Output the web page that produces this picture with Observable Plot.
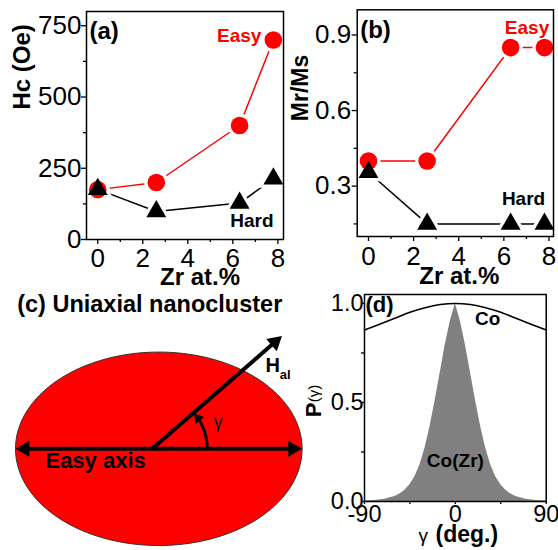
<!DOCTYPE html>
<html><head><meta charset="utf-8">
<script src="https://cdn.jsdelivr.net/npm/d3@7"></script>
<script src="https://cdn.jsdelivr.net/npm/@observablehq/plot@0.6"></script>
<style>
body{margin:0;background:#fff;}
#fig{position:relative;width:558px;height:550px;overflow:hidden;background:#fff;}
</style></head><body><div id="fig"></div>
<script>
// ---- data ----
const zr = [0, 2.6, 6.3, 7.8];
const hcEasy = [175, 200, 400, 700];
const hcHard = [176, 98, 128, 213];
const mrEasy = [0.40, 0.40, 0.85, 0.85];
const mrHard = [0.355, 0.15, 0.15, 0.15];
const zrTicks = [0, 2, 4, 6, 8];
const zrMinor = [1, 3, 5, 7];
const hcTicks = [0, 250, 500, 750];
const hcMinor = [125, 375, 625];
const mrTicks = [0.3, 0.6, 0.9];
const mrMinor = [0.15, 0.45, 0.75];
const gammaZr = [-90,-80,-70,-60,-55,-50,-45,-40,-35,-30,-25,-20,-15,-10,-5,0,5,10,15,20,25,30,35,40,45,50,55,60,70,80,90];
const pCoZr  = [0.002,0.005,0.011,0.025,0.038,0.057,0.085,0.125,0.185,0.27,0.38,0.51,0.65,0.79,0.91,1.0,0.91,0.79,0.65,0.51,0.38,0.27,0.185,0.125,0.085,0.057,0.038,0.025,0.011,0.005,0.002];
const gammaCo = [-90,-75,-60,-45,-30,-15,0,15,30,45,60,75,90];
const pCo     = [0.866,0.895,0.925,0.955,0.978,0.994,1.0,0.994,0.978,0.955,0.925,0.895,0.866];
const gTicks = [-90, 0, 90];
const gMinor = [-45, 45];
const pTicks = [0, 0.5, 1.0];
const pMinor = [0.25, 0.75];

// ---- schematic (panel c) geometry ----
const ellRx = 1.0, ellRy = 0.675;
const hOrigin = -0.046, hAngle = 41, hLen = 1.2;
const arcR = 0.384, arcEnd = 34;

const F = '"Liberation Sans", Arial, Helvetica, sans-serif';
const RED = "#ff0000";
const fig = document.getElementById("fig");
function mk(opts, left, top) {
  const svg = Plot.plot({...opts, style: {fontFamily: F, background: "transparent", color: "#000", overflow: "visible"}});
  svg.style.position = "absolute";
  svg.style.left = left + "px";
  svg.style.top = top + "px";
  svg.style.maxWidth = "none";
  fig.appendChild(svg);
}
const fmt = d => String(d);
const blank = () => "";

// ---- panel (a) ----
const dA = zr.map((x, i) => ({x, easy: hcEasy[i], hard: hcHard[i]}));
mk({
  width: 290, height: 300, marginLeft: 86, marginRight: 7, marginTop: 11, marginBottom: 61,
  x: {domain: [-0.5, 8.25], label: null}, y: {domain: [0, 800], label: null},
  marks: [
    Plot.line(dA, {x: "x", y: "easy", stroke: RED, strokeWidth: 1.5}),
    Plot.line(dA, {x: "x", y: "hard", stroke: "#000", strokeWidth: 1.5}),
    Plot.dot(dA, {x: "x", y: "easy", r: 12, fill: "#fff"}),
    Plot.dot(dA, {x: "x", y: "hard", r: 11.5, symbol: "triangle", fill: "#fff"}),
    Plot.dot(dA, {x: "x", y: "easy", r: 8.8, fill: RED}),
    Plot.dot(dA, {x: "x", y: "hard", r: 7.4, symbol: "triangle", fill: "#000"}),
    Plot.frame({stroke: "#000", strokeWidth: 1.5}),
    Plot.axisX({ticks: zrTicks, tickSize: 5, tickPadding: 4, fontSize: 26, tickFormat: fmt, label: null, strokeWidth: 1.3}),
    Plot.axisX({ticks: zrMinor, tickSize: 3, tickFormat: blank, label: null, strokeWidth: 1.3}),
    Plot.axisY({ticks: hcTicks, tickSize: 5, tickPadding: 0, fontSize: 26, tickFormat: fmt, label: null, strokeWidth: 1.3}),
    Plot.axisY({ticks: hcMinor, tickSize: 3, tickFormat: blank, label: null, strokeWidth: 1.3}),
    Plot.text(["Hc (Oe)"], {text: d => d, frameAnchor: "left", dx: -64, dy: -16, rotate: -90, lineAnchor: "middle", fontSize: 24, fontWeight: "bold"}),
    Plot.text(["Zr at.%"], {text: d => d, frameAnchor: "bottom", dx: 15, dy: 45.5, lineAnchor: "bottom", fontSize: 24, fontWeight: "bold"}),
    Plot.text(["(a)"], {text: d => d, frameAnchor: "top-left", textAnchor: "start", dx: 3, dy: 27.5, lineAnchor: "bottom", fontSize: 24, fontWeight: "bold"}),
    Plot.text([dA[3]], {x: "x", y: "easy", text: () => "Easy", textAnchor: "end", dx: -12, dy: 2, lineAnchor: "bottom", fontSize: 19, fontWeight: "bold", fill: RED}),
    Plot.text(["Hard"], {text: d => d, frameAnchor: "bottom-right", textAnchor: "end", dx: -10, dy: -12.3, lineAnchor: "bottom", fontSize: 19, fontWeight: "bold"})
  ]
}, 0, 0);

// ---- panel (b) ----
const dB = zr.map((x, i) => ({x, easy: mrEasy[i], hard: mrHard[i]}));
mk({
  width: 268, height: 300, marginLeft: 66.7, marginRight: 5, marginTop: 9.3, marginBottom: 64,
  x: {domain: [-0.5, 8.2], label: null}, y: {domain: [0.1, 1.0], label: null},
  marks: [
    Plot.line(dB, {x: "x", y: "easy", stroke: RED, strokeWidth: 1.5}),
    Plot.line(dB, {x: "x", y: "hard", stroke: "#000", strokeWidth: 1.5}),
    Plot.dot(dB, {x: "x", y: "easy", r: 12, fill: "#fff"}),
    Plot.dot(dB, {x: "x", y: "hard", r: 11.5, symbol: "triangle", fill: "#fff"}),
    Plot.dot(dB, {x: "x", y: "easy", r: 8.8, fill: RED}),
    Plot.dot(dB, {x: "x", y: "hard", r: 7.4, symbol: "triangle", fill: "#000"}),
    Plot.frame({stroke: "#000", strokeWidth: 1.5}),
    Plot.axisX({ticks: zrTicks, tickSize: 5, tickPadding: 5, fontSize: 26, tickFormat: fmt, label: null, strokeWidth: 1.3}),
    Plot.axisX({ticks: zrMinor, tickSize: 3, tickFormat: blank, label: null, strokeWidth: 1.3}),
    Plot.axisY({ticks: mrTicks, tickSize: 5, tickPadding: 1, fontSize: 26, tickFormat: d => d.toFixed(1), label: null, strokeWidth: 1.3}),
    Plot.axisY({ticks: mrMinor, tickSize: 3, tickFormat: blank, label: null, strokeWidth: 1.3}),
    Plot.text(["Mr/Ms"], {text: d => d, frameAnchor: "left", dx: -57, dy: -2, rotate: -90, lineAnchor: "middle", fontSize: 23, fontWeight: "bold"}),
    Plot.text(["Zr at.%"], {text: d => d, frameAnchor: "bottom", dx: 4, dy: 47, lineAnchor: "bottom", fontSize: 24, fontWeight: "bold"}),
    Plot.text(["(b)"], {text: d => d, frameAnchor: "top-left", textAnchor: "start", dx: 3, dy: 27.7, lineAnchor: "bottom", fontSize: 24, fontWeight: "bold"}),
    Plot.text(["Easy"], {text: d => d, frameAnchor: "top-right", textAnchor: "end", dx: -4.3, dy: 24, lineAnchor: "bottom", fontSize: 19, fontWeight: "bold", fill: RED}),
    Plot.text(["Hard"], {text: d => d, frameAnchor: "bottom-right", textAnchor: "end", dx: -8.3, dy: -32, lineAnchor: "bottom", fontSize: 19, fontWeight: "bold"})
  ]
}, 290, 0);

// ---- panel (c) schematic ----
const ell = d3.range(0, 360, 2).map(t => ({x: ellRx * Math.cos(t * Math.PI / 180), y: ellRy * Math.sin(t * Math.PI / 180)}));
const U = 143.3; // px per unit
const bigHead = 9.27 / U; // centroid offset of head
const rad = a => a * Math.PI / 180;
const hTip = {x: hOrigin + hLen * Math.cos(rad(hAngle)), y: hLen * Math.sin(rad(hAngle))};
const hHead = {x: hTip.x - bigHead * Math.cos(rad(hAngle)), y: hTip.y - bigHead * Math.sin(rad(hAngle)), rot: 90 - hAngle};
const arcPts = d3.range(0, arcEnd + 0.5, 1).map(a => ({x: hOrigin + arcR * Math.cos(rad(a)), y: arcR * Math.sin(rad(a))}));
const arcHead = {x: hOrigin + arcR * Math.cos(rad(arcEnd)), y: arcR * Math.sin(rad(arcEnd)), rot: -(arcEnd + 3)};
mk({
  width: 305, height: 265, marginLeft: 0, marginRight: 0, marginTop: 0, marginBottom: 0,
  x: {domain: [-1.1047, 1.0237], axis: null}, y: {domain: [-0.7097, 1.1396], axis: null},
  marks: [
    Plot.line(ell, {x: "x", y: "y", curve: "linear-closed", fill: RED, stroke: "#333", strokeWidth: 1}),
    Plot.link([{x1: -ellRx + bigHead, x2: ellRx - bigHead, y1: 0, y2: 0}], {x1: "x1", x2: "x2", y1: "y1", y2: "y2", stroke: "#000", strokeWidth: 4}),
    Plot.dot([{x: -ellRx + bigHead, y: 0, rot: -90}, {x: ellRx - bigHead, y: 0, rot: 90}], {x: "x", y: "y", rotate: "rot", symbol: "triangle", r: 5.94, fill: "#000"}),
    Plot.link([{x1: hOrigin, y1: 0, x2: hHead.x, y2: hHead.y}], {x1: "x1", x2: "x2", y1: "y1", y2: "y2", stroke: "#000", strokeWidth: 4}),
    Plot.dot([hHead], {x: "x", y: "y", rotate: "rot", symbol: "triangle", r: 5.94, fill: "#000"}),
    Plot.line(arcPts, {x: "x", y: "y", stroke: "#000", strokeWidth: 3}),
    Plot.dot([arcHead], {x: "x", y: "y", rotate: "rot", symbol: "triangle", r: 4.1, fill: "#000"}),
    Plot.text(["(c) Uniaxial nanocluster"], {text: d => d, frameAnchor: "top-left", textAnchor: "start", dx: 16.7, dy: 26.7, lineAnchor: "bottom", fontSize: 23.5, fontWeight: "bold"}),
    Plot.text(["Easy axis"], {text: d => d, x: () => -0.791, y: () => -0.1326, textAnchor: "start", lineAnchor: "bottom", fontSize: 22, fontWeight: "bold"}),
    Plot.text(["H"], {text: d => d, x: () => 0.745, y: () => 0.5345, textAnchor: "start", lineAnchor: "bottom", fontSize: 20, fontWeight: "bold"}),
    Plot.text(["al"], {text: d => d, x: () => 0.844, y: () => 0.4843, textAnchor: "start", lineAnchor: "bottom", fontSize: 13, fontWeight: "bold"}),
    Plot.text(["γ"], {text: d => d, x: () => 0.384, y: () => 0.1486, textAnchor: "start", lineAnchor: "bottom", fontSize: 18})
  ]
}, 0, 285);

// ---- panel (d) ----
const dZr = gammaZr.map((g, i) => ({g, p: pCoZr[i]}));
const dCo = gammaCo.map((g, i) => ({g, p: pCo[i]}));
mk({
  width: 256, height: 265, marginLeft: 62, marginRight: 12.3, marginTop: 9, marginBottom: 49,
  x: {domain: [-90, 90], label: null}, y: {domain: [0, 1.045], label: null},
  marks: [
    Plot.areaY(dZr, {x: "g", y: "p", fill: "#808080"}),
    Plot.line(dCo, {x: "g", y: "p", stroke: "#000", strokeWidth: 1.5, curve: "monotone-x"}),
    Plot.frame({stroke: "#000", strokeWidth: 1.5}),
    Plot.axisX({ticks: gTicks, tickSize: 3, tickPadding: 1, fontSize: 23.5, tickFormat: fmt, label: null, strokeWidth: 1.3}),
    Plot.axisX({ticks: gMinor, tickSize: 3, tickFormat: blank, label: null, strokeWidth: 1.3}),
    Plot.axisY({ticks: pTicks, tickSize: 3, tickPadding: -2, fontSize: 23.5, tickFormat: d => d.toFixed(1), label: null, strokeWidth: 1.3}),
    Plot.axisY({ticks: pMinor, tickSize: 3, tickFormat: blank, label: null, strokeWidth: 1.3}),
    Plot.text(["(d)"], {text: d => d, frameAnchor: "top-left", textAnchor: "start", dx: 1, dy: 17, lineAnchor: "bottom", fontSize: 22, fontWeight: "bold"}),
    Plot.text(["Co"], {text: d => d, x: () => 19.5, y: () => 0.89, textAnchor: "start", lineAnchor: "bottom", fontSize: 19, fontWeight: "bold"}),
    Plot.text(["Co(Zr)"], {text: d => d, x: () => 0, y: () => 0.173, textAnchor: "middle", lineAnchor: "bottom", fontSize: 19, fontWeight: "bold"}),
    Plot.text(["P"], {text: d => d, frameAnchor: "left", dx: -51, dy: 19.2, rotate: -90, textAnchor: "start", lineAnchor: "middle", fontSize: 22, fontWeight: "bold"}),
    Plot.text(["(γ)"], {text: d => d, frameAnchor: "left", dx: -50, dy: 4.2, rotate: -90, textAnchor: "start", lineAnchor: "middle", fontSize: 15}),
    Plot.text(["γ"], {text: d => d, frameAnchor: "bottom-left", textAnchor: "start", dx: 54, dy: 40.5, lineAnchor: "bottom", fontSize: 19}),
    Plot.text(["(deg.)"], {text: d => d, frameAnchor: "bottom-left", textAnchor: "start", dx: 71, dy: 40.5, lineAnchor: "bottom", fontSize: 23, fontWeight: "bold"})
  ]
}, 302, 285);
</script>
</body></html>
